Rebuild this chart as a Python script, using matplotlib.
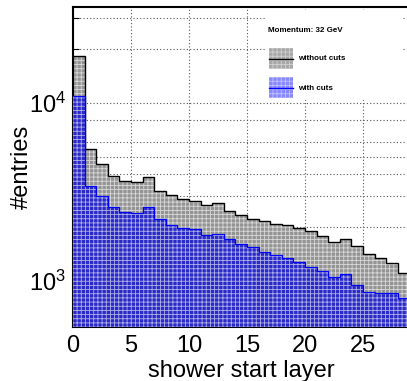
import numpy as np
import matplotlib.pyplot as plt
from matplotlib.patches import Rectangle
from matplotlib.lines import Line2D
from matplotlib.ticker import FixedLocator, NullFormatter

plt.rcParams["font.family"] = ["Liberation Sans", "DejaVu Sans"]
plt.rcParams["hatch.linewidth"] = 0.6

# shower start layer bins (0..28), entries per bin
layers = np.arange(29)
without_cuts = [18370, 5495, 4525, 3890, 3660, 3612, 3855, 3206, 3043, 2878,
                2812, 2673, 2742, 2483, 2356, 2239, 2182, 2081, 2063, 1986,
                1910, 1791, 1663, 1722, 1578, 1418, 1352, 1257, 1105]
with_cuts = [10940, 3428, 3006, 2596, 2443, 2400, 2614, 2229, 2070, 1977,
             1951, 1806, 1844, 1715, 1614, 1546, 1461, 1394, 1345, 1273,
             1203, 1142, 1057, 1094, 950, 871, 853, 860, 800]

y_minor = [600, 800, 2000, 3000, 4000, 5000, 6000, 8000, 20000, 30000]
x_ticks = [0, 5, 10, 15, 20, 25]

W, H = 407, 381
fig = plt.figure(figsize=(W / 100, H / 100), dpi=100)
ax = fig.add_axes([73 / W, 1 - 327 / H, (29 * 11.6) / W, 320 / H])

edges = np.append(layers, layers[-1] + 1)

# filled histograms with a fine cross pattern, ROOT-like
ax.bar(layers, without_cuts, width=1.0, align="edge", bottom=1,
       color="#949494", edgecolor="#d8d8d8", linewidth=0, hatch="++++", zorder=2)
ax.stairs(without_cuts, edges, color="black", linewidth=1.0, baseline=None, zorder=3)
ax.bar(layers, with_cuts, width=1.0, align="edge", bottom=1,
       color="#2a2ac8", edgecolor="#b0b0e8", linewidth=0, hatch="++++", zorder=4)
ax.stairs(with_cuts, edges, color="#0000ff", linewidth=0.9, baseline=None, zorder=5)

ax.set_yscale("log")
ax.set_xlim(0, 29)
ax.set_ylim(552, 34600)

ax.set_xticks(x_ticks)
ax.set_xticks(layers, minor=True)
ax.set_yticks([1000, 10000])
ax.set_yticklabels([r"$\mathregular{10^{3}}$", r"$\mathregular{10^{4}}$"])
ax.yaxis.set_minor_locator(FixedLocator(y_minor))
ax.yaxis.set_minor_formatter(NullFormatter())

ax.tick_params(which="both", direction="in", labelsize=17, top=False, right=False)
ax.tick_params(which="major", length=8, width=1)
ax.tick_params(which="minor", length=4, width=0.8)
ax.tick_params(axis="x", pad=6)
ax.tick_params(axis="y", pad=5)

for s in ax.spines.values():
    s.set_linewidth(1.5)

ax.grid(True, which="major", axis="x", linestyle=(0, (1, 2)), color="#555555", linewidth=0.8, zorder=1)
ax.grid(True, which="both", axis="y", linestyle=(0, (1, 2)), color="#555555", linewidth=0.8, zorder=1)
ax.set_axisbelow(True)

ax.set_xlabel("shower start layer", fontsize=17, labelpad=2)
ax.set_ylabel("#entries", fontsize=17, labelpad=-3)

# legend box drawn in figure pixels
def fx(px):
    return px / W

def fy(py):
    return 1 - py / H

fig.patches.append(Rectangle((fx(265), fy(100)), fx(137), 90 / H, transform=fig.transFigure,
                             facecolor="white", edgecolor="none", zorder=10))
fig.text(fx(268), fy(30), "Momentum: 32 GeV", fontsize=5.8, fontweight="bold",
         va="center", ha="left", zorder=11)

fig.patches.append(Rectangle((fx(269), fy(69)), fx(24), 21 / H, transform=fig.transFigure,
                             facecolor="#a8a8a8", edgecolor="#d0d0d0", linewidth=0,
                             hatch="++++", zorder=11))
fig.lines.append(Line2D([fx(269), fx(293)], [fy(58.5), fy(58.5)], transform=fig.transFigure,
                        color="black", linewidth=1.0, zorder=12))
fig.text(fx(298), fy(59), "without cuts", fontsize=5.8, fontweight="bold",
         va="center", ha="left", zorder=11)

fig.patches.append(Rectangle((fx(269), fy(98)), fx(24), 21 / H, transform=fig.transFigure,
                             facecolor="#8888ff", edgecolor="#c0c0ff", linewidth=0,
                             hatch="++++", zorder=11))
fig.lines.append(Line2D([fx(269), fx(293)], [fy(87.5), fy(87.5)], transform=fig.transFigure,
                        color="#0000ff", linewidth=1.0, zorder=12))
fig.text(fx(298), fy(88), "with cuts", fontsize=5.8, fontweight="bold",
         va="center", ha="left", zorder=11)

fig.savefig("out.png", dpi=100)
